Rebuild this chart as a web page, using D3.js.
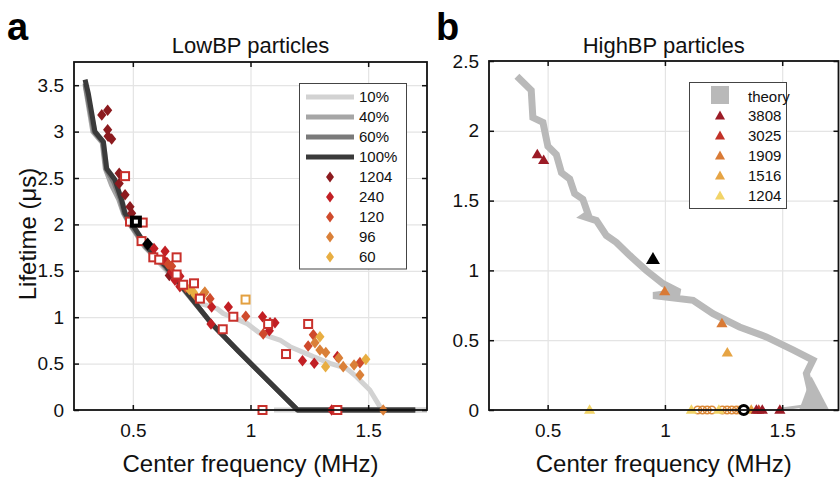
<!DOCTYPE html>
<html>
<head>
<meta charset="utf-8">
<script src="https://cdn.jsdelivr.net/npm/d3@7"></script>
<style>
body { margin: 0; background: #fff; }
svg { font-family: "Liberation Sans", Arial, sans-serif; }
</style>
</head>
<body>
<svg id="chart" width="840" height="479"></svg>
<script>
// ---- data ----
const xTicks = [0.5, 1, 1.5];
const yTicksA = [0, 0.5, 1, 1.5, 2, 2.5, 3, 3.5];
const yTicksB = [0, 0.5, 1, 1.5, 2, 2.5];

// panel a: model curves, lifetime vs centre frequency
const curve10 = [[0.30,3.5],[0.34,2.98],[0.375,2.88],[0.39,2.6],[0.425,2.47],[0.455,2.25],[0.47,2.12],[0.52,1.9],[0.6,1.62],[0.70,1.34],
  [0.785,1.15],[0.856,1.096],[0.884,1.04],[0.984,0.934],[1.04,0.826],[1.125,0.754],[1.168,0.682],[1.267,0.575],
  [1.338,0.503],[1.408,0.449],[1.45,0.359],[1.507,0.216],[1.55,0.036],[1.565,0],[1.75,0]];
const curve10Tail = [[1.10,0],[1.75,0]];
const curve40 = [[0.297,3.5],[0.33,3.0],[0.37,2.88],[0.383,2.6],[0.41,2.42],[0.44,2.27],[0.46,2.12],[0.487,2.0],
  [0.55,1.76],[0.635,1.54],[0.715,1.30],[0.835,0.93],[0.95,0.63],[1.2,0],[1.70,0]];
const curve60 = [[0.297,3.52],[0.335,3.0],[0.372,2.89],[0.386,2.6],[0.418,2.46],[0.447,2.27],[0.463,2.12],[0.49,2.0],
  [0.555,1.76],[0.64,1.54],[0.72,1.29],[0.835,0.93],[0.95,0.63],[1.2,0],[1.70,0]];
const curve100 = [[0.297,3.56],[0.311,3.41],[0.339,3.0],[0.375,2.89],[0.389,2.6],[0.424,2.48],[0.453,2.26],[0.467,2.12],
  [0.495,2.01],[0.559,1.76],[0.644,1.54],[0.722,1.29],[0.835,0.93],[0.95,0.63],[1.2,0],[1.70,0]];

// panel a: measured particles (diamonds), by pressure group
const d1204 = [[0.368,3.18],[0.393,3.23],[0.393,3.02],[0.395,2.95],[0.41,2.92],[0.442,2.55],[0.442,2.44],[0.467,2.32],
  [0.488,2.19],[0.495,2.12],[0.655,1.45]];
const d240 = [[0.59,1.74],[0.637,1.71],[0.63,1.62],[0.645,1.59],[0.665,1.49],[0.679,1.40],[0.70,1.44],[0.70,1.33],
  [0.835,1.11],[0.906,1.11],[0.832,0.927],[1.051,1.005],[1.083,0.94],[1.104,0.94],[1.08,0.855],[1.369,0.575],
  [1.221,0.53],[1.271,0.503],[1.345,0]];
const d120 = [[0.65,1.57],[0.665,1.55],[0.725,1.32],[0.828,1.20],[0.98,1.01],[1.054,0.82],[1.267,0.81],[1.245,0.69],[1.465,0.51]];
const d96 = [[0.806,1.27],[0.764,1.24],[0.80,1.25],[1.274,0.725],[1.295,0.647],[1.32,0.62],[1.375,0.56],[1.394,0.467],
  [1.44,0.485],[1.465,0.377],[1.564,0]];
const d60 = [[0.757,1.27],[0.74,1.30],[1.295,0.79],[1.319,0.467],[1.49,0.546]];
// open squares
const sqRed = [[0.467,2.52],[0.488,2.03],[0.542,2.02],[0.537,1.82],[0.587,1.645],[0.612,1.62],[0.686,1.645],[0.686,1.46],
  [0.714,1.35],[0.76,1.365],[0.785,1.2],[0.882,0.87],[0.927,1.005],[1.075,0.927],[1.151,0.603],[1.245,0.927],[1.051,0],[1.369,0]];
const sqOrange = [[0.979,1.19]];
const blackSquare = [[0.513,2.03]];
const blackDiamond = [[0.563,1.79]];

// panel b: theory band and measured particles (triangles)
const theory = [[0.369,2.39],[0.43,2.29],[0.437,2.095],[0.48,2.06],[0.501,1.89],[0.537,1.83],[0.559,1.70],[0.594,1.655],
  [0.615,1.55],[0.65,1.51],[0.672,1.405],[0.655,1.385],[0.708,1.357],[0.75,1.25],[0.793,1.20],[0.85,1.107],[0.92,1.0],
  [0.992,0.905],[1.063,0.845],[0.95,0.82],[1.12,0.786],[1.205,0.69],[1.318,0.595],[1.432,0.524],[1.546,0.43],
  [1.631,0.357],[1.603,0.262],[1.616,0.167],[1.63,0.05]];
const theoryTail = [[1.625,0.24],[1.572,0.0],[1.70,0.0]];
const theoryFoot = [[1.49,0.005],[1.60,0.03]];
const t3808 = [[0.456,1.83],[0.483,1.79],[1.39,0],[1.415,0],[1.49,0]];
const t3025 = [[1.40,0]];
const t1909 = [[0.999,0.85],[1.243,0.62]];
const t1516 = [[1.266,0.41],[1.368,0]];
const t1204 = [[0.679,0],[1.113,0],[1.23,0]];
const blackTriangle = [[0.949,1.08]];
const circlesB = [1.14,1.16,1.18,1.20,1.245,1.265,1.285,1.305,1.322];
const blackCircle = [[1.336,0]];

const curveLabels = ['10%','40%','60%','100%'];
const groupLabelsA = ['1204','240','120','96','60'];
const groupLabelsB = ['3808','3025','1909','1516','1204'];

// ---- styles ----
const curveColors = ['#d2d2d2','#a6a6a6','#7a7a7a','#3a3a3a'];
const colA = ['#8c1a1e','#c21f24','#cf4a2c','#da8038','#e8ae42'];
const colB = ['#9b1b26','#c23228','#d97a35','#e6a444','#f2d468'];
const theoryColor = '#b9b9b9';

let svg = d3.select('#chart');

let diamond = (cx, cy, w=4.6, h=5.8) => `M${cx},${cy-h}L${cx+w},${cy}L${cx},${cy+h}L${cx-w},${cy}Z`;
let triangle = (cx, cy, w=5.6, h=9.5) => `M${cx},${cy-h*0.6}L${cx+w},${cy+h*0.4}L${cx-w},${cy+h*0.4}Z`;

let makePanel = ({left, right, top, bottom, xDomain, yDomain, yTicks, title, letter, letterX}) => {
    let x = d3.scaleLinear().domain(xDomain).range([left, right]);
    let y = d3.scaleLinear().domain(yDomain).range([bottom, top]);
    let g = svg.append('g');
    let fmt = d3.format('~g');

    // grid
    g.append('g').attr('transform', `translate(0,${bottom})`)
        .call(d3.axisBottom(x).tickValues(xTicks).tickSize(-(bottom - top)).tickFormat(''))
        .call(s => s.select('.domain').remove())
        .call(s => s.selectAll('line').attr('stroke', '#e4e4e4').attr('stroke-width', 1.2));
    g.append('g').attr('transform', `translate(${left},0)`)
        .call(d3.axisLeft(y).tickValues(yTicks.filter(v => v > 0 && y(v) > top + 2)).tickSize(-(right - left)).tickFormat(''))
        .call(s => s.select('.domain').remove())
        .call(s => s.selectAll('line').attr('stroke', '#e4e4e4').attr('stroke-width', 1.2));

    let plot = g.append('g');

    // axes, ticks pointing inward
    let axes = g.append('g').attr('class', 'axes');
    axes.append('g').attr('transform', `translate(0,${bottom})`)
        .call(d3.axisBottom(x).tickValues(xTicks).tickSize(-5).tickPadding(14).tickFormat(fmt));
    axes.append('g').attr('transform', `translate(0,${top})`)
        .call(d3.axisTop(x).tickValues(xTicks).tickSize(-5).tickFormat(''));
    axes.append('g').attr('transform', `translate(${left},0)`)
        .call(d3.axisLeft(y).tickValues(yTicks).tickSize(-5).tickPadding(10).tickFormat(fmt));
    axes.append('g').attr('transform', `translate(${right},0)`)
        .call(d3.axisRight(y).tickValues(yTicks).tickSize(-5).tickFormat(''));
    axes.selectAll('.domain').remove();
    axes.selectAll('line').attr('stroke', '#111').attr('stroke-width', 1.5);
    axes.selectAll('text').attr('font-size', 19).attr('fill', '#111')
        .attr('font-family', '"Liberation Sans", Arial, sans-serif');
    g.append('rect')
        .attr('x', left).attr('y', top)
        .attr('width', right - left).attr('height', bottom - top)
        .attr('fill', 'none').attr('stroke', '#111').attr('stroke-width', 1.8);

    g.append('text').attr('x', (left + right) / 2).attr('y', 53)
        .attr('text-anchor', 'middle').attr('font-size', 22).attr('fill', '#111').text(title);
    g.append('text').attr('x', letterX).attr('y', 40)
        .attr('font-size', 38).attr('font-weight', 'bold').attr('fill', '#000').text(letter);
    g.append('text').attr('x', (left + right) / 2).attr('y', 472)
        .attr('text-anchor', 'middle').attr('font-size', 24).attr('fill', '#111').text('Center frequency (MHz)');

    return {x, y, plot, g};
};

// ---- panel a ----
let A = makePanel({left: 74, right: 427, top: 62, bottom: 410, xDomain: [0.25, 1.75], yDomain: [0, 3.75],
    yTicks: yTicksA, title: 'LowBP particles', letter: 'a', letterX: 7});

svg.append('text')
    .attr('transform', `translate(36,${234}) rotate(-90)`)
    .attr('text-anchor', 'middle').attr('font-size', 24).attr('fill', '#111')
    .text('Lifetime (μs)');

let lineA = d3.line().x(d => A.x(d[0])).y(d => A.y(d[1]));
A.plot.append('path').attr('d', lineA(curve10Tail))
    .attr('fill', 'none').attr('stroke', curveColors[0]).attr('stroke-width', 5);
[curve10, curve40, curve60, curve100].forEach((c, i) => {
    A.plot.append('path').attr('d', lineA(c))
        .attr('fill', 'none').attr('stroke', curveColors[i]).attr('stroke-width', 5)
        .attr('stroke-linejoin', 'round');
});

let drawDiamonds = (data, color) => {
    A.plot.append('g').selectAll('path').data(data).join('path')
        .attr('d', d => diamond(A.x(d[0]), A.y(d[1])))
        .attr('fill', color);
};
let drawSquares = (data, color, fill='#fff', sw=2) => {
    A.plot.append('g').selectAll('rect').data(data).join('rect')
        .attr('x', d => A.x(d[0]) - 4).attr('y', d => A.y(d[1]) - 4)
        .attr('width', 8).attr('height', 8)
        .attr('fill', fill).attr('stroke', color).attr('stroke-width', sw);
};

[d1204, d240, d120, d96, d60].forEach((s, i) => drawDiamonds(s, colA[i]));
drawSquares(sqRed, '#c8302b');
drawSquares(sqOrange, '#e3a040');
drawSquares(blackSquare, '#000', '#fff', 4);
A.plot.append('g').selectAll('path').data(blackDiamond).join('path')
    .attr('d', d => diamond(A.x(d[0]), A.y(d[1]), 5.5, 6.5)).attr('fill', '#000');

// legend a
let legA = svg.append('g');
legA.append('rect').attr('x', 299.5).attr('y', 83.5).attr('width', 107).attr('height', 185.5)
    .attr('fill', '#fff').attr('stroke', '#444').attr('stroke-width', 1);
curveLabels.forEach((lab, i) => {
    let yy = 97 + i * 20;
    legA.append('line').attr('x1', 306).attr('x2', 354).attr('y1', yy).attr('y2', yy)
        .attr('stroke', curveColors[i]).attr('stroke-width', 5);
    legA.append('text').attr('x', 359).attr('y', yy).attr('dy', '0.36em')
        .attr('font-size', 15).attr('fill', '#111').text(lab);
});
groupLabelsA.forEach((lab, i) => {
    let yy = 177 + i * 20;
    legA.append('path').attr('d', diamond(330, yy, 4, 5.5)).attr('fill', colA[i]);
    legA.append('text').attr('x', 359).attr('y', yy).attr('dy', '0.36em')
        .attr('font-size', 15).attr('fill', '#111').text(lab);
});

// ---- panel b ----
let B = makePanel({left: 489, right: 838.5, top: 61, bottom: 410, xDomain: [0.25, 1.74], yDomain: [0, 2.5],
    yTicks: yTicksB, title: 'HighBP particles', letter: 'b', letterX: 436});

let lineB = d3.line().x(d => B.x(d[0])).y(d => B.y(d[1]));
B.plot.append('path').attr('d', lineB(theory))
    .attr('fill', 'none').attr('stroke', theoryColor).attr('stroke-width', 7)
    .attr('stroke-linejoin', 'miter').attr('stroke-miterlimit', 3);
B.plot.append('path').attr('d', lineB(theoryTail) + 'Z').attr('fill', theoryColor);
B.plot.append('path').attr('d', lineB(theoryFoot))
    .attr('fill', 'none').attr('stroke', theoryColor).attr('stroke-width', 3);

let drawTriangles = (data, color, w, h) => {
    B.plot.append('g').selectAll('path').data(data).join('path')
        .attr('d', d => triangle(B.x(d[0]), B.y(d[1]), w, h))
        .attr('fill', color);
};
B.plot.append('g').selectAll('circle').data(circlesB).join('circle')
    .attr('cx', d => B.x(d)).attr('cy', B.y(0)).attr('r', 3.8)
    .attr('fill', 'none').attr('stroke', '#dc8a3a').attr('stroke-width', 1.6);
[t1204, t1516, t1909, t3025, t3808].forEach((s, i) => drawTriangles(s, colB[4 - i]));
drawTriangles(blackTriangle, '#000', 7, 12);
B.plot.append('g').selectAll('circle').data(blackCircle).join('circle')
    .attr('cx', d => B.x(d[0])).attr('cy', d => B.y(d[1])).attr('r', 4.5)
    .attr('fill', '#fff').attr('stroke', '#000').attr('stroke-width', 3);

// legend b
let legB = svg.append('g');
legB.append('rect').attr('x', 689.5).attr('y', 82.5).attr('width', 97).attr('height', 126)
    .attr('fill', '#fff').attr('stroke', '#444').attr('stroke-width', 1);
legB.append('rect').attr('x', 711).attr('y', 86).attr('width', 18).attr('height', 18).attr('fill', theoryColor);
legB.append('text').attr('x', 748).attr('y', 97).attr('dy', '0.36em')
    .attr('font-size', 15).attr('fill', '#111').text('theory');
groupLabelsB.forEach((lab, i) => {
    let yy = 116 + i * 20;
    legB.append('path').attr('d', triangle(720, yy, 5, 9)).attr('fill', colB[i]);
    legB.append('text').attr('x', 748).attr('y', yy).attr('dy', '0.36em')
        .attr('font-size', 15).attr('fill', '#111').text(lab);
});
</script>
</body>
</html>
